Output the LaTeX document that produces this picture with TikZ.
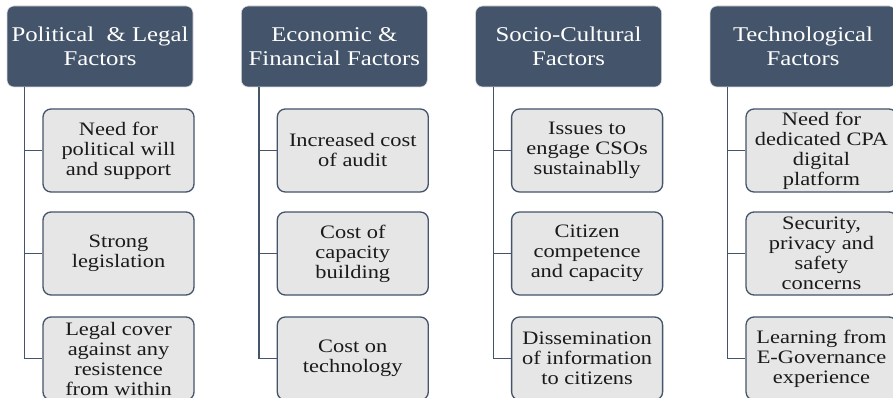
\documentclass[tikz,border=0pt]{standalone}
\usepackage{fontspec}
\setmainfont[FakeStretch=1.18]{Liberation Serif}
\definecolor{hdrblue}{HTML}{44546A}
\definecolor{itemgray}{HTML}{E7E6E6}
\definecolor{itemtext}{HTML}{1A1A1A}
\begin{document}
\begin{tikzpicture}[x=1pt,y=1pt,
  hdr/.style={draw=white!80!hdrblue, line width=0.6pt, fill=hdrblue, rounded corners=7pt,
    minimum width=186pt, minimum height=81pt, inner sep=0pt, text=white, align=center,
    font=\fontsize{21}{23.5}\selectfont},
  item/.style={draw=hdrblue, line width=1.3pt, fill=itemgray, rounded corners=8pt,
    minimum width=151pt, minimum height=83pt, inner sep=0pt, text=itemtext, align=center,
    font=\fontsize{19}{20}\selectfont},
  link/.style={draw=hdrblue, line width=1.3pt}]
\useasboundingbox (0,0) rectangle (893,-398);
\clip (0,0) rectangle (893,-398);
\fill[white] (0,0) rectangle (893,-398);

% column 1
\node[hdr]  (h1) at (100,-46.5) {Political \ \& Legal\\Factors};
\node[item] (a1) at (118.5,-150.5) {Need for\\political will\\and support};
\node[item] (b1) at (118.5,-253.5) {Strong\\legislation};
\node[item] (c1) at (118.5,-358.5) {Legal cover\\against any\\resistence\\from within};

% column 2
\node[hdr]  (h2) at (334.3,-46.5) {Economic \&\\Financial Factors};
\node[item] (a2) at (352.8,-150.5) {Increased cost\\of audit};
\node[item] (b2) at (352.8,-253.5) {Cost of\\capacity\\building};
\node[item] (c2) at (352.8,-358.5) {Cost on\\technology};

% column 3
\node[hdr]  (h3) at (568.6,-46.5) {Socio-Cultural\\Factors};
\node[item] (a3) at (587.1,-150.5) {Issues to\\engage CSOs\\sustainablly};
\node[item] (b3) at (587.1,-253.5) {Citizen\\competence\\and capacity};
\node[item] (c3) at (587.1,-358.5) {Dissemination\\of information\\to citizens};

% column 4
\node[hdr]  (h4) at (803,-46.5) {Technological\\Factors};
\node[item] (a4) at (821.5,-150.5) {Need for\\dedicated CPA\\digital\\platform};
\node[item] (b4) at (821.5,-253.5) {Security,\\privacy and\\safety\\concerns};
\node[item] (c4) at (821.5,-358.5) {Learning from\\E-Governance\\experience};

\foreach \i in {1,2,3,4}{
  \draw[link] ([xshift=18pt]h\i.south west) |- (a\i.west);
  \draw[link] ([xshift=18pt]h\i.south west) |- (b\i.west);
  \draw[link] ([xshift=18pt]h\i.south west) |- (c\i.west);
}
\end{tikzpicture}
\end{document}
